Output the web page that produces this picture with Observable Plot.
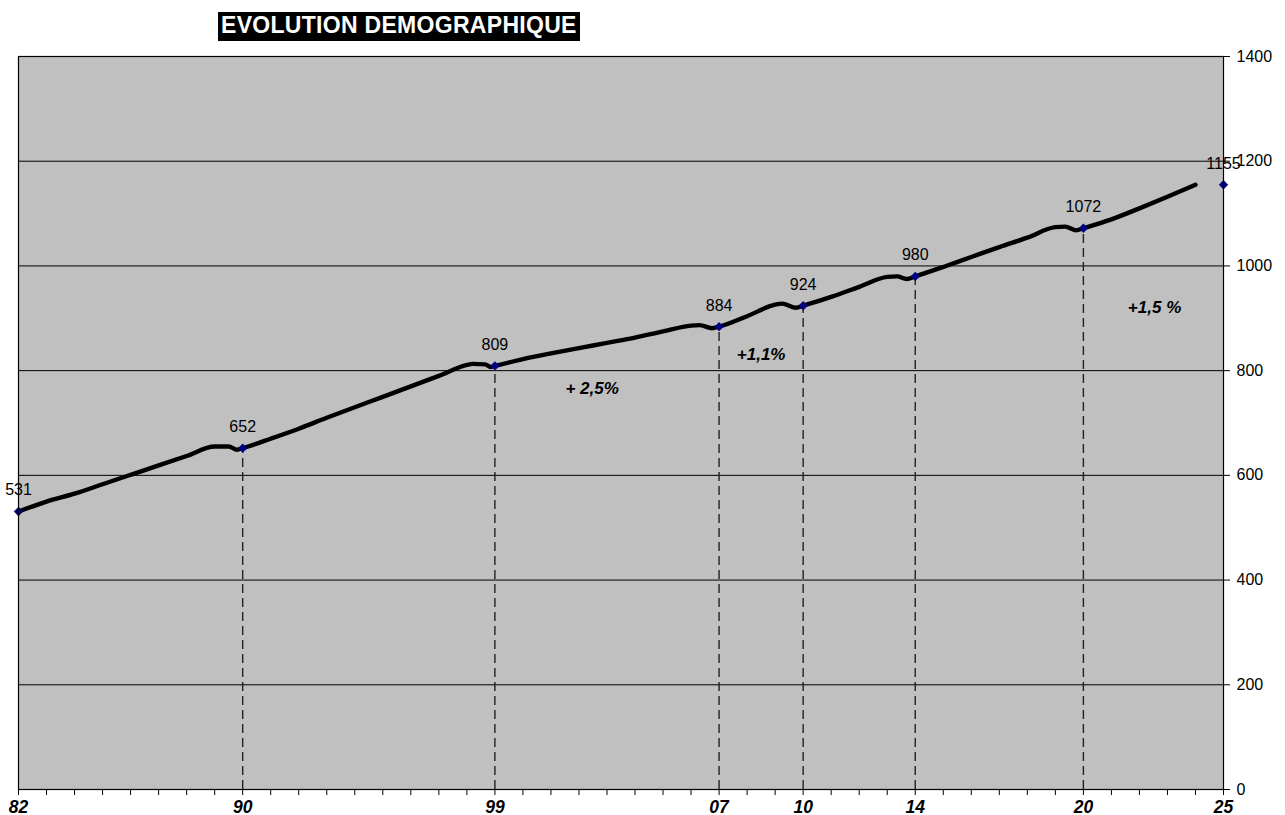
<!DOCTYPE html>
<html>
<head>
<meta charset="utf-8">
<script src="https://cdn.jsdelivr.net/npm/d3@7"></script>
<script src="https://cdn.jsdelivr.net/npm/@observablehq/plot@0.6"></script>
<style>
  html, body { margin: 0; padding: 0; background: #ffffff; }
  #chart { position: relative; width: 1285px; height: 815px; }
  #title {
    position: absolute; left: 218px; top: 12px; height: 29px; line-height: 30px;
    padding: 0 3px; background: #000; color: #fff;
    font: bold 23px Arial, "Liberation Sans", sans-serif; letter-spacing: 0.3px;
    white-space: nowrap;
  }
</style>
</head>
<body>
<div id="chart"><div id="title">EVOLUTION DEMOGRAPHIQUE</div></div>
<script>
// Population curve (year, inhabitants)
const lineYears = [1982, 1983, 1984, 1985, 1986, 1987, 1988, 1989, 1989.5, 1989.8, 1990,
  1991, 1992, 1993, 1994, 1995, 1996, 1997, 1998, 1998.2, 1998.65, 1998.85, 1999,
  2000, 2001, 2002, 2003, 2004, 2005, 2006, 2006.3, 2006.75, 2007,
  2008, 2009, 2009.25, 2009.75, 2010,
  2011, 2012, 2013, 2013.35, 2013.7, 2014,
  2015, 2016, 2017, 2018, 2019, 2019.35, 2019.75, 2020,
  2021, 2022, 2023, 2024];
const lineValues = [531, 550, 565, 583, 601, 619, 637, 655, 655, 649, 652,
  670, 689, 710, 730, 750, 770, 790, 811, 813, 812, 807, 809,
  822, 833, 843, 853, 863, 875, 886, 887, 881, 884,
  904, 926, 928, 920, 924,
  941, 960, 979, 980, 975, 980,
  998, 1017, 1036, 1054, 1074, 1075, 1068, 1072,
  1089, 1110, 1132, 1155];

// Census markers
const markerYears = [1982, 1990, 1999, 2007, 2010, 2014, 2020, 2025];
const markerValues = [531, 652, 809, 884, 924, 980, 1072, 1155];
const dropYears = [1990, 1999, 2007, 2010, 2014, 2020];

// Growth-rate notes
const noteTexts = ["+ 2,5%", "+1,1%", "+1,5 %"];
const noteYears = [2002.47, 2008.5, 2022.54];
const noteValues = [766, 831, 920];

// Axes
const labelYears = [1982, 1990, 1999, 2007, 2010, 2014, 2020, 2025];
const allYears = d3.range(1982, 2026);
const yTicks = [0, 200, 400, 600, 800, 1000, 1200, 1400];
const gridValues = [200, 400, 600, 800, 1000, 1200];

const line = lineYears.map((year, i) => ({year, value: lineValues[i]}));
const markers = markerYears.map((year, i) => ({year, value: markerValues[i]}));
const drops = markers.filter(d => dropYears.includes(d.year));
const notes = noteTexts.map((text, i) => ({text, year: noteYears[i], value: noteValues[i]}));

const font = "Arial, 'Liberation Sans', sans-serif";

const chart = Plot.plot({
  width: 1285,
  height: 815,
  marginLeft: 18,
  marginRight: 62,
  marginTop: 56,
  marginBottom: 26,
  style: {fontFamily: font, background: "transparent", overflow: "visible", color: "#000"},
  x: {domain: [1982, 2025]},
  y: {domain: [0, 1400]},
  marks: [
    Plot.frame({fill: "#c0c0c0"}),
    Plot.ruleY(gridValues, {stroke: "#000", strokeWidth: 1}),
    Plot.ruleX(drops, {x: "year", y1: 0, y2: "value", stroke: "#222", strokeWidth: 1.4, strokeDasharray: "9,5"}),
    Plot.line(line, {x: "year", y: "value", stroke: "#000", strokeWidth: 4.4, curve: "monotone-x", strokeLinejoin: "round", strokeLinecap: "round"}),
    Plot.dot(markers, {x: "year", y: "value", symbol: "diamond2", r: 4.2, fill: "#000080", stroke: "none"}),
    Plot.text(markers, {x: "year", y: "value", text: d => String(d.value), dy: -16, lineAnchor: "bottom", fontSize: 16, fill: "#000"}),
    Plot.text(notes, {x: "year", y: "value", text: "text", fontSize: 17, fontWeight: "bold", fontStyle: "italic", fill: "#000"}),
    Plot.frame({stroke: "#000", strokeWidth: 1.2}),
    Plot.axisX({
      ticks: allYears, tickSize: 6, tickPadding: 5, label: null,
      tickFormat: d => labelYears.includes(d) ? String(d).slice(2) : "",
      fontSize: 17.5, fontWeight: "bold", fontStyle: "italic"
    }),
    Plot.axisY({
      anchor: "right", ticks: yTicks, tickSize: 6, tickPadding: 7, label: null,
      tickFormat: d => String(d), fontSize: 16
    })
  ]
});
chart.style.position = "absolute";
chart.style.left = "0px";
chart.style.top = "0px";
const holder = document.getElementById("chart");
holder.insertBefore(chart, holder.firstChild);
</script>
</body>
</html>
